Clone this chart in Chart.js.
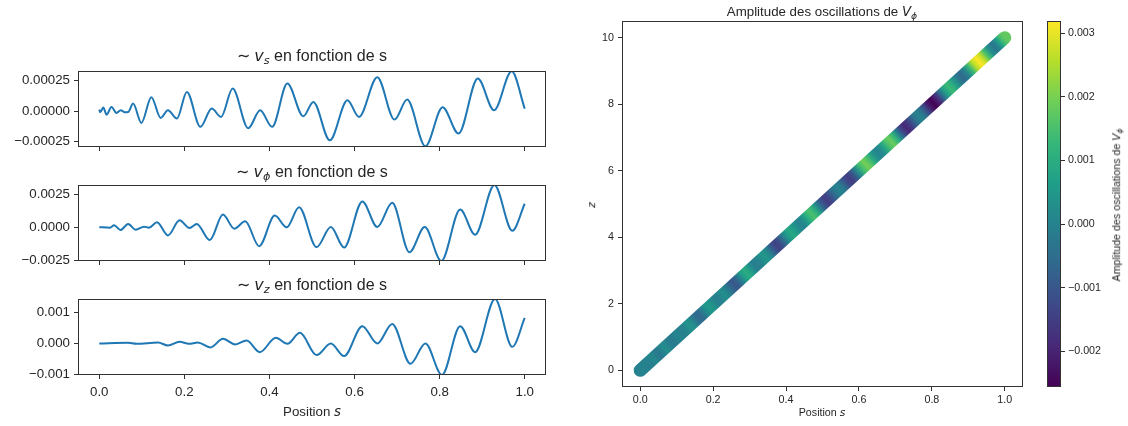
<!DOCTYPE html>
<html>
<head>
<meta charset="utf-8">
<script src="https://cdn.jsdelivr.net/npm/chart.js@4.4.1/dist/chart.umd.min.js"></script>
<style>
body { margin: 0; background: #fff; width: 1128px; height: 426px; position: relative; overflow: hidden; font-family: 'Liberation Sans', Arial, sans-serif; color: #262626; }
canvas { position: absolute; }
.txt { position: absolute; white-space: nowrap; line-height: 1; transform: translate(-50%, -50%); }
.rot { transform: translate(-50%, -50%) rotate(-90deg); }
.m { font-family: 'DejaVu Sans', sans-serif; font-style: italic; }
sub { font-size: 70%; vertical-align: -0.25em; line-height: 0; }
</style>
</head>
<body>
<canvas id="vsCanvas" width="560" height="100" style="left:0;top:66px"></canvas>
<canvas id="vpCanvas" width="560" height="100" style="left:0;top:180px"></canvas>
<canvas id="vzCanvas" width="560" height="132" style="left:0;top:294px"></canvas>
<canvas id="ampCanvas" width="475" height="426" style="left:560px;top:0"></canvas>
<canvas id="cbCanvas" width="88" height="426" style="left:1040px;top:0"></canvas>

<div class="txt" style="left:312px;top:56px;font-size:16px">&#8764; <span class="m">v</span><sub class="m">s</sub> en fonction de s</div>
<div class="txt" style="left:312px;top:172px;font-size:16px">&#8764; <span class="m">v</span><sub class="m">&#981;</sub> en fonction de s</div>
<div class="txt" style="left:312px;top:285px;font-size:16px">&#8764; <span class="m">v</span><sub class="m">z</sub> en fonction de s</div>
<div class="txt" style="left:312px;top:412px;font-size:13.3px">Position <span class="m">s</span></div>

<div class="txt" style="left:822px;top:12px;font-size:13.3px">Amplitude des oscillations de <span class="m">V</span><sub class="m">&#981;</sub></div>
<div class="txt" style="left:822px;top:413px;font-size:10.7px">Position <span class="m">s</span></div>
<div class="txt rot" style="left:592px;top:205px;font-size:10.7px"><span class="m">z</span></div>
<div class="txt rot" style="left:1117px;top:205px;font-size:10.7px">Amplitude des oscillations de <span class="m">V</span><sub class="m">&#981;</sub></div>

<script>
// ~v_s
const vsS = [0, 0.0023, 0.0094, 0.0172, 0.0288, 0.0405, 0.0507, 0.06, 0.068, 0.0795, 0.099, 0.1224, 0.1443, 0.1614, 0.1825, 0.2058, 0.2378, 0.2643, 0.2862, 0.3135, 0.3501, 0.3782, 0.4062, 0.4421, 0.4795, 0.503, 0.5419, 0.5833, 0.6105, 0.6534, 0.694, 0.7236, 0.7665, 0.807, 0.8444, 0.8897, 0.9279, 0.9692, 1.0]
const vsV = [0.0000137, -0.0000082, 0.00003, -0.0000273, 0.0000355, -0.0000137, 0.0000082, -0.0000082, -0.0000055, 0.0000628, -0.0000956, 0.000115, -0.0000546, 0.0000082, -0.0000601, 0.000158, -0.000128, 0.0000219, -0.0000464, 0.000186, -0.000139, 0.0000082, -0.000128, 0.000227, -0.000041, 0.0000765, -0.000238, 0.0000902, -0.0000464, 0.000279, -0.0000683, 0.0000956, -0.000287, 0.0000328, -0.000183, 0.000268, 0.0000082, 0.000328, 0.0000219]
const vsRange = [-0.000293, 0.00033]
const vsTicks = [-0.00025, 0, 0.00025]
const vsTickLabels = ['\u22120.00025', '0.00000', '0.00025']

// ~v_phi
const vpS = [0, 0.025, 0.035, 0.0499, 0.0678, 0.0857, 0.1053, 0.1169, 0.1357, 0.1614, 0.1887, 0.2121, 0.2292, 0.2596, 0.2908, 0.3173, 0.343, 0.3758, 0.4125, 0.4405, 0.4696, 0.5107, 0.5443, 0.5754, 0.6183, 0.6534, 0.6885, 0.729, 0.7649, 0.8039, 0.8483, 0.8834, 0.9287, 0.9708, 1.0]
const vpV = [0, -0.000038, 0.00014, -0.000216, 0.000242, -0.000191, 0.000038, -0.000038, 0.000369, -0.000624, 0.000522, -0.000064, 0.000242, -0.00098, 0.000954, -0.000115, 0.000445, -0.00144, 0.000878, -0.000013, 0.00151, -0.00151, 0.000013, -0.00154, 0.00195, 0.000013, 0.00185, -0.0019, 0.000013, -0.00256, 0.00134, -0.000573, 0.00319, -0.000267, 0.00177]
const vpTicks = [-0.0025, 0, 0.0025]
const vpTickLabels = ['\u22120.0025', '0.0000', '0.0025']

// ~v_z
const vzS = [0, 0.0678, 0.0873, 0.138, 0.1614, 0.1887, 0.2105, 0.2316, 0.2612, 0.2908, 0.3197, 0.3462, 0.3774, 0.4148, 0.4421, 0.4717, 0.5107, 0.5443, 0.5754, 0.6183, 0.6534, 0.6885, 0.7314, 0.7665, 0.8055, 0.8483, 0.8834, 0.9302, 0.9708, 1.0]
const vzV = [0, 0.0000215, -0.0000108, 0.0000323, -0.0000645, 0.0000538, -0.0000108, 0.0000323, -0.000129, 0.000151, -0.0000323, 0.0000968, -0.00028, 0.000183, -0.0000108, 0.000344, -0.000376, 0, -0.000409, 0.000559, 0, 0.000634, -0.000656, 0, -0.00102, 0.000559, -0.00028, 0.00144, -0.000108, 0.000828]
const vzRange = [-0.00102, 0.00144]
const vzTicks = [-0.001, 0, 0.001]
const vzTickLabels = ['\u22120.001', '0.000', '0.001']

const sTicks = [0, 0.2, 0.4, 0.6, 0.8, 1.0]
const sTickLabels = ['0.0', '0.2', '0.4', '0.6', '0.8', '1.0']

// right panel: z against s, coloured by v_phi
const sLine = [0, 1]
const zLine = [0, 10]
const zTicks = [0, 2, 4, 6, 8, 10]
const zTickLabels = ['0', '2', '4', '6', '8', '10']
const cbTicks = [-0.002, -0.001, 0, 0.001, 0.002, 0.003]
const cbTickLabels = ['\u22120.002', '\u22120.001', '0.000', '0.001', '0.002', '0.003']

const vpMin = Math.min(...vpV)
const vpMax = Math.max(...vpV)

const viridisStops = ['#440154', '#482878', '#3e4989', '#31688e', '#26828e', '#1f9e89', '#35b779', '#6ece58', '#b5de2b', '#fde725']

function hexRgb(h) {
    return [1, 3, 5].map(i => parseInt(h.slice(i, i + 2), 16))
}

function viridis(t) {
    t = Math.max(0, Math.min(1, t)) * (viridisStops.length - 1)
    let i = Math.min(Math.floor(t), viridisStops.length - 2)
    let f = t - i
    let a = hexRgb(viridisStops[i]), b = hexRgb(viridisStops[i + 1])
    let c = a.map((v, k) => Math.round(v + (b[k] - v) * f))
    return `rgb(${c[0]},${c[1]},${c[2]})`
}

const norm = v => (v - vpMin) / (vpMax - vpMin)

const tickCol = '#333'
const textCol = '#262626'

const frame = {
    id: 'frame',
    afterDraw(chart) {
        const a = chart.chartArea, ctx = chart.ctx
        ctx.save()
        ctx.strokeStyle = tickCol
        ctx.lineWidth = 1
        ctx.strokeRect(a.left + 0.5, a.top + 0.5, a.right - a.left - 1, a.bottom - a.top - 1)
        ctx.restore()
    }
}

function setTicks(values) {
    return axis => { axis.ticks = values.map(v => ({ value: v })) }
}

// fixed axis sizes so the plot areas land where the reference has them
function fixWidth(w) {
    return s => { s.width = w; s.paddingTop = 0; s.paddingBottom = 0 }
}
function fixHeight(h) {
    return s => { s.height = h; s.paddingLeft = 0; s.paddingRight = 0 }
}

function leftChart(canvas, sArr, vArr, range, yTicks, yLabels, xHeight, showX) {
    return new Chart(document.querySelector(canvas), {
        type: 'line',
        data: {
            datasets: [{
                data: sArr.map((s, i) => ({ x: s, y: vArr[i] })),
                borderColor: '#1f77b4',
                borderWidth: 2,
                pointRadius: 0,
                cubicInterpolationMode: 'monotone'
            }]
        },
        options: {
            responsive: false,
            animation: false,
            devicePixelRatio: 1,
            layout: { padding: { top: 5, right: 14, left: 0, bottom: 0 } },
            plugins: { legend: { display: false }, tooltip: { enabled: false } },
            scales: {
                x: {
                    type: 'linear',
                    min: -0.05,
                    max: 1.05,
                    afterBuildTicks: setTicks(sTicks),
                    afterFit: fixHeight(xHeight),
                    grid: { drawOnChartArea: false, tickLength: 4, color: tickCol },
                    border: { display: false },
                    ticks: {
                        autoSkip: false,
                        maxRotation: 0,
                        padding: 5,
                        color: textCol,
                        font: { family: 'Liberation Sans', size: 13.3 },
                        callback: (v, i) => showX ? sTickLabels[i] : ''
                    }
                },
                y: {
                    min: range[0],
                    max: range[1],
                    afterBuildTicks: setTicks(yTicks),
                    afterFit: fixWidth(78),
                    grid: { drawOnChartArea: false, tickLength: 4, color: tickCol },
                    border: { display: false },
                    ticks: {
                        autoSkip: false,
                        padding: 4,
                        color: textCol,
                        font: { family: 'Liberation Sans', size: 13.3 },
                        callback: (v, i) => yLabels[i]
                    }
                }
            }
        },
        plugins: [frame]
    })
}

leftChart('#vsCanvas', vsS, vsV, vsRange, vsTicks, vsTickLabels, 19, false)
leftChart('#vpCanvas', vpS, vpV, [vpMin, vpMax], vpTicks, vpTickLabels, 19, false)
leftChart('#vzCanvas', vzS, vzV, vzRange, vzTicks, vzTickLabels, 51, true)

// colour along the line follows v_phi at each position s
function lineGradient(context) {
    const chart = context.chart
    const xs = chart.scales.x, ys = chart.scales.y
    if (!chart.chartArea || !xs || !ys) return viridis(norm(0))
    const g = chart.ctx.createLinearGradient(
        xs.getPixelForValue(sLine[0]), ys.getPixelForValue(zLine[0]),
        xs.getPixelForValue(sLine[1]), ys.getPixelForValue(zLine[1]))
    const span = sLine[1] - sLine[0]
    for (let i = 0; i < vpS.length; i++) {
        g.addColorStop((vpS[i] - sLine[0]) / span, viridis(norm(vpV[i])))
        if (i < vpS.length - 1) {
            for (let k = 1; k < 4; k++) {
                let t = k / 4
                let e = t * t * (3 - 2 * t)
                let s = vpS[i] + (vpS[i + 1] - vpS[i]) * t
                let v = vpV[i] + (vpV[i + 1] - vpV[i]) * e
                g.addColorStop((s - sLine[0]) / span, viridis(norm(v)))
            }
        }
    }
    return g
}

const smallFont = { family: 'Liberation Sans', size: 10.7 }

new Chart(document.querySelector('#ampCanvas'), {
    type: 'line',
    data: {
        datasets: [{
            data: sLine.map((s, i) => ({ x: s, y: zLine[i] })),
            borderColor: lineGradient,
            borderWidth: 13,
            borderCapStyle: 'round',
            pointRadius: 0,
            clip: false
        }]
    },
    options: {
        responsive: false,
        animation: false,
        devicePixelRatio: 1,
        layout: { padding: { top: 21, right: 12, left: 0, bottom: 0 } },
        plugins: { legend: { display: false }, tooltip: { enabled: false } },
        scales: {
            x: {
                type: 'linear',
                min: -0.05,
                max: 1.05,
                afterBuildTicks: setTicks(sTicks),
                afterFit: fixHeight(39),
                grid: { drawOnChartArea: false, tickLength: 4, color: tickCol },
                border: { display: false },
                ticks: { autoSkip: false, maxRotation: 0, padding: 3, color: textCol, font: smallFont, callback: (v, i) => sTickLabels[i] }
            },
            y: {
                min: -0.5,
                max: 10.5,
                afterBuildTicks: setTicks(zTicks),
                afterFit: fixWidth(62),
                grid: { drawOnChartArea: false, tickLength: 4, color: tickCol },
                border: { display: false },
                ticks: { autoSkip: false, padding: 4, color: textCol, font: smallFont, callback: (v, i) => zTickLabels[i] }
            }
        }
    },
    plugins: [frame]
})

function barGradient(context) {
    const chart = context.chart, a = chart.chartArea
    if (!a) return viridis(0.5)
    const g = chart.ctx.createLinearGradient(0, a.bottom, 0, a.top)
    viridisStops.forEach((c, i) => g.addColorStop(i / (viridisStops.length - 1), c))
    return g
}

new Chart(document.querySelector('#cbCanvas'), {
    type: 'bar',
    data: {
        labels: [''],
        datasets: [{
            data: [[vpMin, vpMax]],
            backgroundColor: barGradient,
            borderWidth: 0,
            barPercentage: 1,
            categoryPercentage: 1
        }]
    },
    options: {
        responsive: false,
        animation: false,
        devicePixelRatio: 1,
        layout: { padding: { top: 21, right: 7, left: 7, bottom: 39 } },
        plugins: { legend: { display: false }, tooltip: { enabled: false } },
        scales: {
            x: { display: false },
            y: {
                position: 'right',
                min: vpMin,
                max: vpMax,
                afterBuildTicks: setTicks(cbTicks),
                afterFit: fixWidth(60),
                grid: { drawOnChartArea: false, tickLength: 4, color: tickCol },
                border: { display: false },
                ticks: { autoSkip: false, padding: 3, color: textCol, font: smallFont, callback: (v, i) => cbTickLabels[i] }
            }
        }
    },
    plugins: [frame]
})
</script>
</body>
</html>
